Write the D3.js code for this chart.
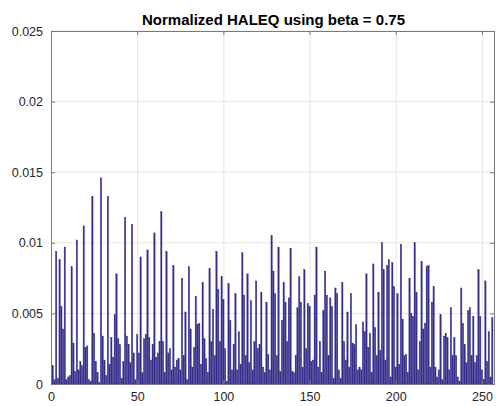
<!DOCTYPE html>
<html><head><meta charset="utf-8">
<script src="https://cdn.jsdelivr.net/npm/d3@7"></script>
<style>body{margin:0;background:#fff;}svg{display:block;}</style>
</head><body>
<svg id="c" width="496" height="406"></svg>
<script>
const titleText = "Normalized HALEQ using beta = 0.75";
const xTicks = [0, 50, 100, 150, 200, 250];
const yTicks = [0, 0.005, 0.01, 0.015, 0.02, 0.025];
const yTickLabels = ["0", "0.005", "0.01", "0.015", "0.02", "0.025"];
// values for bins 1..256
const values = [
 0.0013,0.0003,0.0094,0.0004,0.0088,0.0055,0.0039,0.0097,0.0003,0.0005,
 0.0006,0.0083,0.0029,0.0009,0.0102,0.0010,0.0016,0.0013,0.0112,0.0026,
 0.0027,0.0003,0.0002,0.0133,0.0036,0.0016,0.0008,0.0001,0.0146,0.0034,
 0.0017,0.0006,0.0133,0.0014,0.0033,0.0019,0.0049,0.0078,0.0032,0.0028,
 0.0004,0.0016,0.0118,0.0034,0.0028,0.0015,0.0113,0.0022,0.0003,0.0035,
 0.0022,0.0090,0.0008,0.0032,0.0035,0.0095,0.0033,0.0017,0.0028,0.0107,
 0.0019,0.0022,0.0030,0.0122,0.0030,0.0008,0.0094,0.0022,0.0025,0.0010,
 0.0084,0.0012,0.0017,0.0018,0.0010,0.0075,0.0020,0.0051,0.0003,0.0083,
 0.0039,0.0012,0.0026,0.0062,0.0042,0.0043,0.0014,0.0072,0.0032,0.0018,
 0.0008,0.0082,0.0030,0.0053,0.0020,0.0094,0.0067,0.0030,0.0076,0.0060,
 0.0025,0.0002,0.0071,0.0045,0.0010,0.0028,0.0064,0.0010,0.0037,0.0014,
 0.0093,0.0063,0.0020,0.0078,0.0015,0.0059,0.0010,0.0030,0.0073,0.0025,
 0.0028,0.0065,0.0012,0.0008,0.0058,0.0021,0.0010,0.0105,0.0080,0.0064,
 0.0020,0.0097,0.0009,0.0045,0.0072,0.0058,0.0030,0.0061,0.0096,0.0009,
 0.0008,0.0020,0.0054,0.0076,0.0058,0.0012,0.0081,0.0025,0.0057,0.0055,
 0.0016,0.0017,0.0063,0.0097,0.0012,0.0030,0.0008,0.0052,0.0080,0.0063,
 0.0020,0.0061,0.0055,0.0004,0.0068,0.0064,0.0010,0.0004,0.0072,0.0030,
 0.0017,0.0051,0.0012,0.0064,0.0029,0.0028,0.0042,0.0010,0.0012,0.0010,
 0.0044,0.0037,0.0078,0.0026,0.0036,0.0008,0.0085,0.0040,0.0020,0.0065,
 0.0024,0.0100,0.0081,0.0017,0.0084,0.0088,0.0005,0.0086,0.0069,0.0012,
 0.0064,0.0014,0.0099,0.0046,0.0020,0.0021,0.0008,0.0075,0.0050,0.0048,
 0.0100,0.0065,0.0010,0.0030,0.0087,0.0039,0.0043,0.0083,0.0084,0.0012,
 0.0058,0.0069,0.0012,0.0005,0.0010,0.0049,0.0003,0.0034,0.0036,0.0033,
 0.0010,0.0054,0.0020,0.0033,0.0020,0.0005,0.0002,0.0068,0.0043,0.0028,
 0.0015,0.0052,0.0054,0.0020,0.0048,0.0015,0.0020,0.0081,0.0048,0.0010,
 0.0003,0.0073,0.0016,0.0037,0.0005,0.0047
];
const bins = values.map((v, i) => i + 1);

const L = 51, R = 494, T = 31, B = 384;
const svg = d3.select("#c");
const x = d3.scaleLinear().domain([0, 257]).range([L, R]);
const y = d3.scaleLinear().domain([0, 0.025]).range([B, T]);
const font = "'Liberation Sans', Arial, Helvetica, sans-serif";

// grid
const g = svg.append("g");
g.selectAll("line.gx").data(xTicks.filter(d => d > 0)).join("line")
  .attr("x1", d => x(d) + 0.5).attr("x2", d => x(d) + 0.5)
  .attr("y1", T).attr("y2", B).attr("stroke", "#e6e6e6").attr("stroke-width", 1);
g.selectAll("line.gy").data(yTicks.filter(d => d > 0)).join("line")
  .attr("y1", d => y(d)).attr("y2", d => y(d))
  .attr("x1", L).attr("x2", R).attr("stroke", "#e6e6e6").attr("stroke-width", 1);

// bars
const bw = (x(1) - x(0)) * 0.8;
svg.append("g").selectAll("rect").data(values).join("rect")
  .attr("x", (d, i) => x(bins[i]) - bw / 2)
  .attr("width", bw)
  .attr("y", d => y(d))
  .attr("height", d => B - y(d))
  .attr("fill", "#352d8a")
  .attr("stroke", "#352d8a")
  .attr("stroke-width", 0.35);

// axes (MATLAB style box, inward ticks)
const ax = svg.append("g");
const axB = d3.axisBottom(x).tickValues(xTicks).tickSize(-4).tickPadding(8).tickFormat(d3.format("d"));
const axT = d3.axisTop(x).tickValues(xTicks).tickSize(-4).tickFormat("");
const axL = d3.axisLeft(y).tickValues(yTicks).tickSize(-4).tickPadding(8).tickFormat((d, i) => yTickLabels[i]);
const axR = d3.axisRight(y).tickValues(yTicks).tickSize(-4).tickFormat("");
ax.append("g").attr("transform", `translate(0,${B})`).call(axB);
ax.append("g").attr("transform", `translate(0,${T})`).call(axT);
ax.append("g").attr("transform", `translate(${L},0)`).call(axL);
ax.append("g").attr("transform", `translate(${R},0)`).call(axR);
ax.selectAll(".domain").attr("stroke", "#7a7a7a");
ax.selectAll(".tick line").attr("stroke", "#7a7a7a");
ax.selectAll("text").attr("font-family", font).attr("font-size", "12.5px").attr("fill", "#262626");

svg.append("text").attr("x", (L + R) / 2 + 1).attr("y", 25)
  .attr("text-anchor", "middle").attr("font-family", font)
  .attr("font-weight", "bold").attr("font-size", "15px").attr("fill", "#000")
  .text(titleText);
</script>
</body></html>
